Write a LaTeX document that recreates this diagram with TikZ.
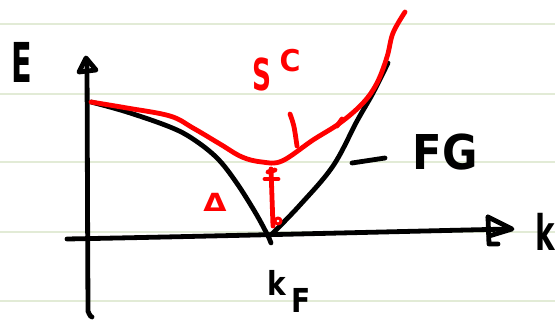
\documentclass[tikz,border=0pt]{standalone}
\usepackage{graphicx}
\usepackage{fontspec}
\setmainfont{DejaVu Sans}
\definecolor{scred}{RGB}{255,0,0}
\definecolor{ruleg}{RGB}{226,235,214}
\begin{document}
\begin{tikzpicture}[x=1pt,y=-1pt,
  ink/.style={line width=4.8pt,line cap=round,line join=round},
  blk/.style={ink,draw=black},
  rd/.style={ink,draw=scred},
  ruled/.style={draw=ruleg,line width=1.6pt},
  lbl/.style={inner sep=0pt,outer sep=0pt,text=black,font=\bfseries},
  rlbl/.style={lbl,text=scred}]
\useasboundingbox (0,0) rectangle (555,320);
\fill[white] (0,0) rectangle (555,320);
% ruled paper
\foreach \y in {24,94,162,232,301} \draw[ruled] (0,\y) -- (555,\y);
% axes
\draw[blk] (87,60) -- (87.5,200) -- (88,312) to[out=90,in=180] (92,317);
\draw[blk] (79,72) -- (86,58) -- (96,70) -- cycle;
\draw[blk] (67,239) .. controls (200,236.5) and (380,232) .. (510,229);
\draw[blk] (488,217) -- (512,229) -- (489,236);
\draw[blk] (488,217) -- (489,244) -- (498,244);
% black free-gas curve
\draw[blk] plot[smooth,tension=0.6] coordinates {(91,102) (127,112) (170,127) (193,139) (217,158) (236,182) (255,212) (267,234) (271,243)};
\draw[blk] plot[smooth,tension=0.6] coordinates {(271,235) (300,205) (333,166) (357,121) (373,93) (388,63)};
% red superconductor curve
\draw[rd] plot[smooth,tension=0.6] coordinates {(91,102) (127,108) (170,116) (193,128) (220,144) (242,157) (262,162) (282,161) (313,140) (340,123) (363,103) (377,83) (387,57) (393,33) (405,12)};
% red gap arrow
\draw[rd] (271,169) -- (273,226);
\draw[rd] (265,179) -- (278,179);
\draw[rd] (268,172) -- (275,170);
\draw[rd,line width=3pt] (278,221) circle (3pt);
% red ticks
\draw[rd] (290,114) .. controls (294,125) .. (297,146);
\draw[rd] (337,126) -- (342,119);
% labels
\node[lbl] (E) at (22,62) {\fontsize{55}{55}\selectfont\scalebox{0.55}[1]{E}};
\node[lbl] (k) at (545,232) {\fontsize{49}{49}\selectfont\scalebox{0.6}[1]{k}};
\node[lbl] (kF) at (277,283) {\fontsize{33}{33}\selectfont\scalebox{0.85}[1]{k}};
\node[lbl] (F) at (301,300) {\fontsize{33}{33}\selectfont\scalebox{0.85}[1]{F}};
\node[lbl] (FG) at (445,152) {\fontsize{48}{48}\selectfont\scalebox{0.9}[1]{FG}};
\draw[blk] (352,163) -- (385,158);
\node[rlbl] (S) at (262,74) {\fontsize{44}{44}\selectfont\scalebox{0.6}[1]{S}};
\node[rlbl] (C) at (290,61) {\fontsize{30}{30}\selectfont\scalebox{0.95}[1]{C}};
\node[rlbl] (D) at (215,202) {\fontsize{25}{25}\selectfont\scalebox{1.2}[1]{Δ}};
\end{tikzpicture}
\end{document}
